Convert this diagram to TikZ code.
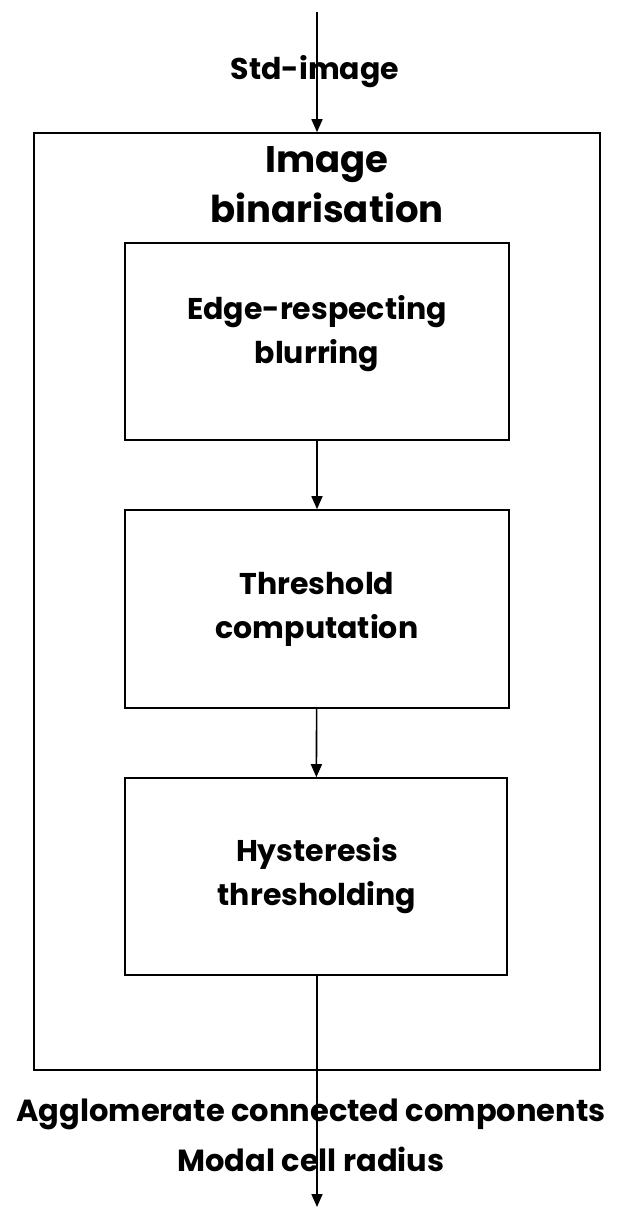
\documentclass[tikz,border=0pt]{standalone}
\usepackage{fontspec}
\setmainfont{Poppins}
\usepackage{tikz}
\usetikzlibrary{positioning,arrows.meta}

\begin{document}
\begin{tikzpicture}[x=1pt,y=-1pt,font=\fontsize{30}{44}\selectfont\bfseries,line width=1.6pt]
\useasboundingbox (0,0) rectangle (621,1214);
% Outer binarisation panel
\node[draw,minimum width=566pt,minimum height=937pt,inner sep=0pt] (bin) at (317,601.5) {};
\node[align=center,font=\fontsize{37}{50}\selectfont\bfseries] (bintitle) at (327,185) {Image\\binarisation};

% Stage boxes
\node[draw,minimum width=384pt,minimum height=197pt,inner sep=0pt] (blur) at (317,341.5) {};
\node[align=center] (blurtxt) at (317,334) {Edge-respecting\\blurring};

\node[draw,minimum width=384pt,minimum height=198pt,inner sep=0pt] (thr) at (317,609) {};
\node[align=center] (thrtxt) at (317,609) {Threshold\\computation};

\node[draw,minimum width=382pt,minimum height=197pt,inner sep=0pt] (hyst) at (316,876.5) {};
\node[align=center] (hysttxt) at (317,876) {Hysteresis\\thresholding};

% Input / output labels
\node (stdimg) at (315,72) {Std-image};
\node[align=center,font=\fontsize{30.5}{50}\selectfont\bfseries] (outtxt) at (311,1135) {Agglomerate connected components\\Modal cell radius};

\coordinate (in) at (317,12);
\coordinate (out) at (317,1207);

\draw[-{Triangle[width=11pt,length=13pt]}] (in)--(bin.north);
\draw[-{Triangle[width=11pt,length=13pt]}] (blur)--(thr);
\draw[-{Triangle[width=11pt,length=13pt]}] (thr)--(hyst);
\draw[-{Triangle[width=11pt,length=13pt]}] (hyst.south -| out)--(out);
\end{tikzpicture}
\end{document}
